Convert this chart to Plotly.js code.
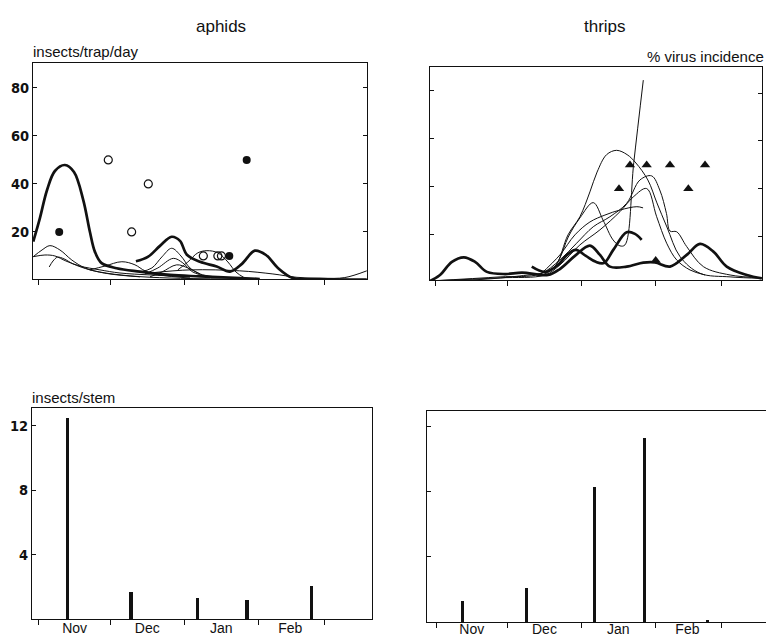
<!DOCTYPE html>
<html>
<head>
<meta charset="utf-8">
<script src="https://cdn.plot.ly/plotly-3.0.1.min.js"></script>
<style>html,body{margin:0;padding:0;background:#fff;}#chart{width:766px;height:639px;}</style>
</head>
<body>
<div id="chart"></div>
<script>
// x values: days since 1 November (Dec 1 = 30, Jan 1 = 61, Feb 1 = 92, Mar 1 = 120)
const monthStarts = [0, 30, 61, 92, 120];
const monthMids = [15, 45.5, 76.5, 105.5];
const monthLabels = ['Nov', 'Dec', 'Jan', 'Feb'];
const trapTicks = [20, 40, 60, 80];
const stemTicks = [4, 8, 12];

// ---- aphids: insects/trap/day (thick = main species, thin = other species)
const aphidMainDays = [-2.4, 0.4, 3.4, 6.7, 10.9, 14.7, 18.6, 21.4, 23.5, 26.3, 32.6, 42.4, 55.0, 67.6, 84.5, 92.7];
const aphidMainVals = [16.0, 25.8, 37.5, 45.4, 47.9, 45.0, 33.3, 20.0, 11.7, 7.0, 4.9, 3.5, 2.1, 1.5, 0.8, 0.4];
const aphidMain2Days = [40.7, 45.7, 50.8, 55.7, 59.2, 62.1, 67.6, 74.6, 80.2, 85.2, 90.6, 95.3, 100.3, 106.6, 117.9, 137.6];
const aphidMain2Vals = [7.8, 9.6, 14.2, 18.0, 16.3, 10.5, 7.6, 5.6, 3.5, 6.7, 12.2, 10.4, 5.0, 0.8, 0.4, 0.2];
const aphidThin1Days = [-2.4, 1.3, 4.6, 8.8, 13.8, 19.3, 25.6, 38.2, 55.0, 80.2];
const aphidThin1Vals = [9.7, 12.5, 14.3, 12.5, 8.3, 5.0, 3.3, 1.7, 0.8, 0.4];
const aphidThin2Days = [-2.4, 2.5, 6.7, 11.3, 17.2, 25.6, 34.0, 46.6, 63.4];
const aphidThin2Vals = [9.7, 10.4, 10.0, 7.9, 5.8, 4.2, 2.9, 2.1, 1.3];
const aphidThin3Days = [4.3, 5.9, 7.8, 10.5, 14.3, 21.4, 29.8, 42.4];
const aphidThin3Vals = [5.4, 7.9, 9.5, 8.8, 6.7, 4.2, 2.5, 1.3];
const aphidThin4Days = [21.4, 27.7, 34.8, 40.3, 44.5, 50.8, 63.4];
const aphidThin4Vals = [4.2, 5.8, 7.6, 6.3, 3.8, 2.1, 0.8];
const aphidThin5Days = [42.4, 47.4, 51.6, 55.7, 59.6, 63.4, 67.6, 73.9];
const aphidThin5Vals = [3.3, 5.0, 9.6, 13.2, 10.0, 5.0, 2.5, 1.3];
const aphidThin6Days = [44.5, 49.9, 56.4, 60.4, 64.6, 71.8];
const aphidThin6Vals = [2.5, 5.0, 9.0, 7.1, 3.3, 1.3];
const aphidThin7Days = [46.6, 51.6, 57.8, 62.5, 67.6];
const aphidThin7Vals = [1.3, 3.3, 6.3, 5.0, 2.5];
const aphidThin8Days = [58.3, 62.5, 66.7, 70.5, 75.1, 79.3, 82.7, 86.4];
const aphidThin8Vals = [4.2, 7.5, 11.3, 12.2, 11.3, 7.5, 3.3, 0.8];
const aphidThin9Days = [46.6, 63.4, 84.3, 98.2, 108.3, 119.2, 128.4, 137.6];
const aphidThin9Vals = [2.9, 4.2, 3.8, 2.5, 1.1, 0.7, 1.0, 3.8];

// aphids: % virus incidence
const aphidVirusOpenDays = [29.1, 45.9, 38.9, 69.0, 75.1, 76.6];
const aphidVirusOpenVals = [50, 40, 20, 10, 10, 10];
const aphidVirusFilledDays = [8.5, 87.2, 79.9];
const aphidVirusFilledVals = [20, 50, 10];

// ---- thrips: insects/trap/day
const thripsMainDays = [-2.5, 1.7, 6.7, 11.7, 16.4, 21.4, 29.0, 36.1, 47.0, 52.0, 58.3, 64.6, 68.8, 73.0, 80.0, 87.0, 91.9, 98.2, 105.2, 110.8, 116.4, 122.0, 130.4, 136.7];
const thripsMainVals = [0.4, 2.9, 8.4, 10.3, 8.4, 4.2, 3.3, 3.9, 2.9, 5.4, 10.9, 15.2, 11.3, 6.4, 6.4, 8.1, 8.2, 6.4, 11.3, 15.9, 12.7, 6.4, 2.9, 1.5];
const thripsMain2Days = [40.2, 45.7, 51.2, 55.0, 58.7, 62.9, 67.1, 70.5, 74.4, 80.0, 83.5, 86.3];
const thripsMain2Vals = [6.4, 4.2, 7.1, 11.3, 13.4, 10.9, 8.4, 7.9, 13.4, 20.8, 20.1, 17.6];
const thripsADays = [-2.5, 18.5, 35.2, 46.2, 50.4, 55.4, 60.4, 64.6, 67.6, 71.6, 75.8, 80.2, 83.9, 88.9, 92.7, 96.9, 102.4, 110.8, 123.4, 136.7];
const thripsAVals = [0.4, 1.0, 2.5, 4.2, 7.1, 19.7, 27.3, 37.7, 46.0, 53.3, 55.1, 53.3, 49.8, 42.7, 33.1, 23.0, 10.6, 3.6, 2.1, 1.5];
const thripsBDays = [-2.5, 26.9, 43.6, 52.0, 59.0, 66.0, 73.0, 80.0, 85.6, 90.5, 93.9, 96.7, 98.2, 101.0, 105.2, 112.2, 123.4, 136.7];
const thripsBVals = [0.4, 2.1, 3.3, 9.2, 16.2, 23.1, 27.3, 32.9, 42.7, 44.4, 38.5, 28.7, 21.3, 21.0, 14.8, 6.4, 2.9, 1.7];
const thripsCDays = [-2.5, 26.9, 45.7, 52.0, 60.4, 68.8, 77.2, 82.8, 88.4, 92.6, 96.8, 101.0, 106.6, 112.9];
const thripsCVals = [0.4, 1.7, 2.9, 7.1, 15.5, 21.8, 29.4, 35.6, 39.1, 27.3, 16.2, 9.2, 5.0, 2.9];
const thripsDDays = [43.6, 48.6, 52.0, 55.5, 60.4, 66.0, 70.1, 74.3, 77.2, 79.3, 83.0, 87.0];
const thripsDVals = [2.5, 5.0, 10.0, 18.8, 26.8, 33.2, 25.9, 17.6, 15.1, 15.5, 50.0, 84.5];
const thripsEDays = [43.6, 52.0, 58.3, 64.6, 70.9, 77.2, 84.3, 86.9];
const thripsEVals = [2.9, 11.3, 19.7, 25.1, 28.0, 30.1, 31.5, 31.0];

// thrips: % virus incidence
const thripsVirusDays = [81.4, 88.4, 98.2, 112.9, 76.8, 105.9, 92.2];
const thripsVirusVals = [50, 50, 50, 50, 40, 40, 10];

// ---- insects/stem
const aphidStemDays = [12.0, 38.6, 66.6, 87.3, 114.4];
const aphidStemVals = [12.5, 1.7, 1.3, 1.15, 2.05];
const thripsStemDays = [11.2, 38.1, 66.6, 87.4, 114.0];
const thripsStemVals = [1.3, 2.1, 8.3, 11.3, 0.1];

const INK = '#111';
function curve(xs, ys, w, xa, ya) {
  return {x: xs, y: ys, type: 'scatter', mode: 'lines', xaxis: xa, yaxis: ya,
          line: {color: INK, width: w, shape: 'spline', smoothing: 1}, hoverinfo: 'skip', showlegend: false};
}
const THICK = 2.7, THIN = 1;
const traces = [
  curve(aphidThin1Days, aphidThin1Vals, THIN, 'x', 'y'),
  curve(aphidThin2Days, aphidThin2Vals, THIN, 'x', 'y'),
  curve(aphidThin3Days, aphidThin3Vals, THIN, 'x', 'y'),
  curve(aphidThin4Days, aphidThin4Vals, THIN, 'x', 'y'),
  curve(aphidThin5Days, aphidThin5Vals, THIN, 'x', 'y'),
  curve(aphidThin6Days, aphidThin6Vals, THIN, 'x', 'y'),
  curve(aphidThin7Days, aphidThin7Vals, THIN, 'x', 'y'),
  curve(aphidThin8Days, aphidThin8Vals, THIN, 'x', 'y'),
  curve(aphidThin9Days, aphidThin9Vals, THIN, 'x', 'y'),
  curve(aphidMainDays, aphidMainVals, THICK, 'x', 'y'),
  curve(aphidMain2Days, aphidMain2Vals, THICK, 'x', 'y'),
  {x: aphidVirusOpenDays, y: aphidVirusOpenVals, type: 'scatter', mode: 'markers', xaxis: 'x', yaxis: 'y5',
   marker: {symbol: 'circle-open', size: 8, color: INK, line: {width: 1.2, color: INK}}, showlegend: false},
  {x: aphidVirusFilledDays, y: aphidVirusFilledVals, type: 'scatter', mode: 'markers', xaxis: 'x', yaxis: 'y5',
   marker: {symbol: 'circle', size: 8, color: INK}, showlegend: false},

  curve(thripsADays, thripsAVals, THIN, 'x2', 'y2'),
  curve(thripsBDays, thripsBVals, THIN, 'x2', 'y2'),
  curve(thripsCDays, thripsCVals, THIN, 'x2', 'y2'),
  curve(thripsDDays, thripsDVals, THIN, 'x2', 'y2'),
  curve(thripsEDays, thripsEVals, THIN, 'x2', 'y2'),
  curve(thripsMainDays, thripsMainVals, THICK, 'x2', 'y2'),
  curve(thripsMain2Days, thripsMain2Vals, THICK, 'x2', 'y2'),
  {x: thripsVirusDays, y: thripsVirusVals, type: 'scatter', mode: 'markers', xaxis: 'x2', yaxis: 'y6',
   marker: {symbol: 'triangle-up', size: 9, color: INK}, showlegend: false},

  {x: aphidStemDays, y: aphidStemVals, type: 'bar', xaxis: 'x3', yaxis: 'y3', width: 1.4,
   marker: {color: INK, line: {width: 0}}, showlegend: false},
  {x: thripsStemDays, y: thripsStemVals, type: 'bar', xaxis: 'x4', yaxis: 'y4', width: 1.4,
   marker: {color: INK, line: {width: 0}}, showlegend: false}
];

const tickFont = {family: '"DejaVu Sans Condensed", "DejaVu Sans", sans-serif', size: 14.5, weight: 'bold', color: INK};
const monthFont = {family: '"Liberation Sans", Arial, sans-serif', size: 14, color: INK};
const labelFont = {family: '"Liberation Sans", Arial, sans-serif', size: 15, color: INK};

function topX(domain, range, anchor) {
  return {domain: domain, range: range, anchor: anchor, showgrid: false, zeroline: false,
          showline: true, mirror: true, linecolor: INK, linewidth: 1,
          tickmode: 'array', tickvals: monthStarts, ticktext: ['', '', '', '', ''],
          ticks: 'outside', ticklen: 5, tickcolor: INK, showticklabels: false, fixedrange: true};
}
function bottomX(domain, range, anchor, standoff) {
  return {domain: domain, range: range, anchor: anchor, showgrid: false, zeroline: false,
          showline: true, mirror: true, linecolor: INK, linewidth: 1,
          tickmode: 'array', tickvals: monthMids, ticktext: monthLabels, ticks: '',
          tickfont: monthFont, ticklabelstandoff: standoff,
          minor: {tickmode: 'array', tickvals: monthStarts, ticks: 'outside', ticklen: 5, tickcolor: INK, showgrid: false},
          fixedrange: true};
}
function yAx(domain, range, anchor, tickvals, showLabels, mirror) {
  return {domain: domain, range: range, anchor: anchor, showgrid: false, zeroline: false,
          showline: true, mirror: mirror, linecolor: INK, linewidth: 1,
          tickmode: 'array', tickvals: tickvals, ticks: 'inside', ticklen: 4, tickcolor: INK,
          showticklabels: showLabels, tickfont: tickFont, fixedrange: true};
}

const layout = {
  width: 766, height: 639,
  margin: {l: 0, r: 0, t: 0, b: 0},
  paper_bgcolor: '#fff', plot_bgcolor: '#fff',
  showlegend: false,
  bargap: 0,
  xaxis:  topX([0.04308, 0.47911], [-2.5, 137.7], 'y'),
  yaxis:  yAx([0.56338, 0.90141], [0.4, 90.4], 'x', trapTicks, true, true),
  xaxis2: topX([0.56136, 0.99478], [-2.5, 136.8], 'y2'),
  yaxis2: yAx([0.56182, 0.89515], [0.8, 90.0], 'x2', trapTicks, false, true),
  xaxis3: bottomX([0.04178, 0.48564], [-2.9, 139.8], 'y3', -4),
  yaxis3: yAx([0.03130, 0.36150], [0, 13.1], 'x3', stemTicks, true, true),
  xaxis4: bottomX([0.55744, 1.0], [-3.8, 138.5], 'y4', -6),
  yaxis4: yAx([0.02660, 0.35728], [0, 13.0], 'x4', stemTicks, false, false),
  yaxis5: {overlaying: 'y', side: 'right', anchor: 'x', range: [0.4, 90.4], showgrid: false, zeroline: false,
           showline: false, tickmode: 'array', tickvals: trapTicks, ticks: 'inside', ticklen: 4, tickcolor: INK,
           showticklabels: false, fixedrange: true},
  yaxis6: {overlaying: 'y2', side: 'right', anchor: 'x2', range: [1.9, 90.9], showgrid: false, zeroline: false,
           showline: false, tickmode: 'array', tickvals: trapTicks, ticks: 'inside', ticklen: 4, tickcolor: INK,
           showticklabels: false, fixedrange: true},
  annotations: [
    {text: 'aphids', x: 221/766, y: 1 - 27/639, xref: 'paper', yref: 'paper', xanchor: 'center', yanchor: 'middle', showarrow: false,
     font: {family: '"Liberation Sans", Arial, sans-serif', size: 17, color: INK}},
    {text: 'thrips', x: 605/766, y: 1 - 27/639, xref: 'paper', yref: 'paper', xanchor: 'center', yanchor: 'middle', showarrow: false,
     font: {family: '"Liberation Sans", Arial, sans-serif', size: 17, color: INK}},
    {text: 'insects/trap/day', x: 31/766, y: 1 - 51/639, xref: 'paper', yref: 'paper', xanchor: 'left', yanchor: 'middle', showarrow: false, font: labelFont},
    {text: '% virus incidence', x: 766/766, y: 1 - 57/639, xref: 'paper', yref: 'paper', xanchor: 'right', yanchor: 'middle', showarrow: false, font: labelFont},
    {text: 'insects/stem', x: 30/766, y: 1 - 397/639, xref: 'paper', yref: 'paper', xanchor: 'left', yanchor: 'middle', showarrow: false, font: labelFont}
  ]
};

Plotly.newPlot('chart', traces, layout, {displayModeBar: false, staticPlot: true});
</script>
</body>
</html>
